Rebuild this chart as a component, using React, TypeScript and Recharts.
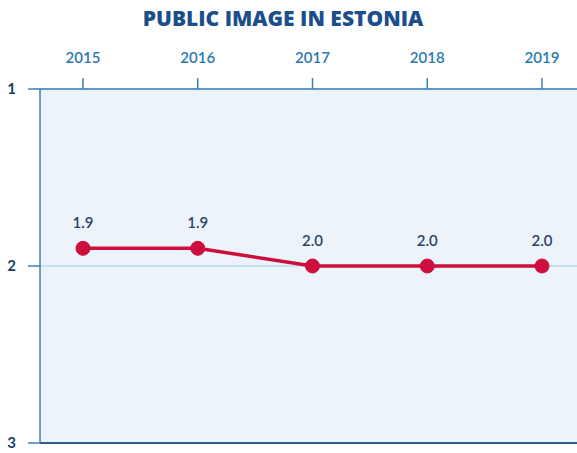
import { LineChart, Line, XAxis, YAxis, CartesianGrid, ReferenceLine, LabelList } from 'recharts';

const years = ['2015', '2016', '2017', '2018', '2019'];
const scores = [1.9, 1.9, 2.0, 2.0, 2.0];
const scaleTicks = [1, 2, 3];

const data = years.map((year, i) => ({ year, score: scores[i] }));

const FONT = 'Lato, "Open Sans", sans-serif';

export default function App() {
  return (
    <div style={{ position: 'fixed', top: 0, left: 0, width: 577, height: 453, overflow: 'hidden', background: '#fff' }}>
      <div
        style={{
          position: 'absolute',
          top: 4,
          left: 0,
          width: 566,
          textAlign: 'center',
          fontFamily: '"Open Sans", sans-serif',
          fontWeight: 800,
          fontSize: 21,
          color: '#1b4f8c',
        }}
      >
        PUBLIC IMAGE IN ESTONIA
      </div>
      <LineChart width={585} height={453} data={data} margin={{ top: 0, right: 0, left: 0, bottom: 10 }}>
        <CartesianGrid vertical={false} fill="#edf3fb" stroke="#a9c8e6" strokeWidth={1.2} />
        <XAxis
          dataKey="year"
          orientation="top"
          height={89}
          padding={{ left: 43, right: 43 }}
          tickSize={11}
          tickMargin={15}
          stroke="#3f7fb2"
          strokeWidth={1.5}
          tick={{ fill: '#2a79b0', fontSize: 15, fontWeight: 600, fontFamily: FONT }}
        />
        <YAxis
          reversed
          domain={[1, 3]}
          ticks={scaleTicks}
          width={40}
          tickSize={12}
          tickMargin={12}
          stroke="#3f7fb2"
          strokeWidth={1.5}
          tick={{ fill: '#1b3f6a', fontSize: 15, fontWeight: 700, fontFamily: FONT }}
        />
        <ReferenceLine y={3} stroke="#2c5f92" strokeWidth={2} />
        <Line
          type="linear"
          dataKey="score"
          stroke="#cc0f3c"
          strokeWidth={3.5}
          dot={{ r: 7, fill: '#cc0f3c', stroke: '#cc0f3c', strokeWidth: 1 }}
          isAnimationActive={false}
        >
          <LabelList
            dataKey="score"
            position="top"
            offset={20}
            formatter={(v: number) => v.toFixed(1)}
            style={{ fill: '#2a4566', fontSize: 15, fontWeight: 600, fontFamily: FONT }}
          />
        </Line>
      </LineChart>
    </div>
  );
}
